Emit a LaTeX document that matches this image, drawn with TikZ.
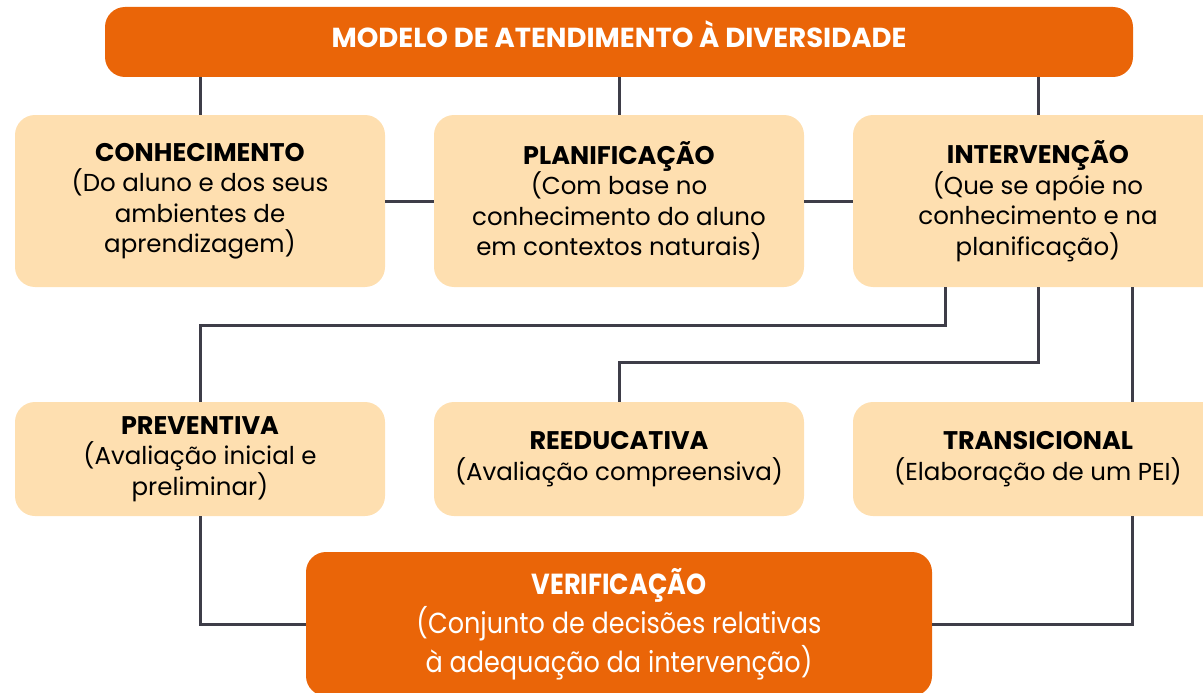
\documentclass[tikz,border=0pt]{standalone}
\usepackage{fontspec}
\setmainfont{Poppins}
\newfontfamily\condfont[FakeStretch=0.88]{Poppins}
\definecolor{orangeA}{HTML}{EA6508}
\definecolor{peach}{HTML}{FEDFB0}
\definecolor{linegray}{HTML}{3E3D48}
\newcommand{\hd}[1]{{\bfseries\fontsize{25.5}{30.5}\selectfont #1}}
\tikzset{
  lightbox/.style={fill=peach, rounded corners=20pt, minimum width=370pt, align=center, inner sep=0pt, font=\fontsize{24.5}{30.5}\selectfont},
  darkbox/.style={fill=orangeA, rounded corners=20pt, align=center, inner sep=0pt, text=white},
  conn/.style={draw=linegray, line width=3pt},
}
\begin{document}
\begin{tikzpicture}[x=1pt,y=-1pt]
\useasboundingbox (0,0) rectangle (1203,693);
\clip (0,0) rectangle (1203,693);
\node[darkbox, minimum width=1028pt, minimum height=70pt, text height=18pt, text depth=6pt, font=\bfseries\fontsize{27.5}{30}\selectfont] (title) at (619,42) {MODELO DE ATENDIMENTO À DIVERSIDADE};
\node[lightbox, minimum height=172pt] (conh) at (200,201) {\hd{CONHECIMENTO}\\(Do aluno e dos seus\\ambientes de\\aprendizagem)};
\node[lightbox, minimum height=172pt] (plan) at (619,201) {\hd{PLANIFICAÇÃO}\\(Com base no\\conhecimento do aluno\\em contextos naturais)};
\node[lightbox, minimum height=172pt] (interv) at (1038,201) {\hd{INTERVENÇÃO}\\(Que se apóie no\\conhecimento e na\\planificação)};
\node[lightbox, minimum height=114pt] (prev) at (200,459) {\hd{PREVENTIVA}\\(Avaliação inicial e\\preliminar)};
\node[lightbox, minimum height=114pt] (reed) at (619,459) {\hd{REEDUCATIVA}\\(Avaliação compreensiva)};
\node[lightbox, minimum height=114pt] (trans) at (1038,459) {\hd{TRANSICIONAL}\\(Elaboração de um PEI)};
\node[darkbox, minimum width=626pt, minimum height=144pt, font=\condfont\fontsize{29}{39}\selectfont] (verif) at (619,624) {\textbf{VERIFICAÇÃO}\\(Conjunto de decisões relativas\\à adequação da intervenção)};
\coordinate (i1) at (945,287);
\coordinate (i3) at (1132,287);
\draw[conn] (conh.north |- title.south) -- (conh.north);
\draw[conn] (plan.north |- title.south) -- (plan.north);
\draw[conn] (interv.north |- title.south) -- (interv.north);
\draw[conn] (conh.east) -- (plan.west);
\draw[conn] (plan.east) -- (interv.west);
\draw[conn] (i1) -- ++(0,38) -| (prev.north);
\draw[conn] (interv.south) -- ++(0,75) -| (reed.north);
\draw[conn] (i3) -- (i3 |- trans.north);
\draw[conn] (i3 |- trans.south) |- (verif.east);
\draw[conn] (prev.south) |- (verif.west);
\end{tikzpicture}
\end{document}
